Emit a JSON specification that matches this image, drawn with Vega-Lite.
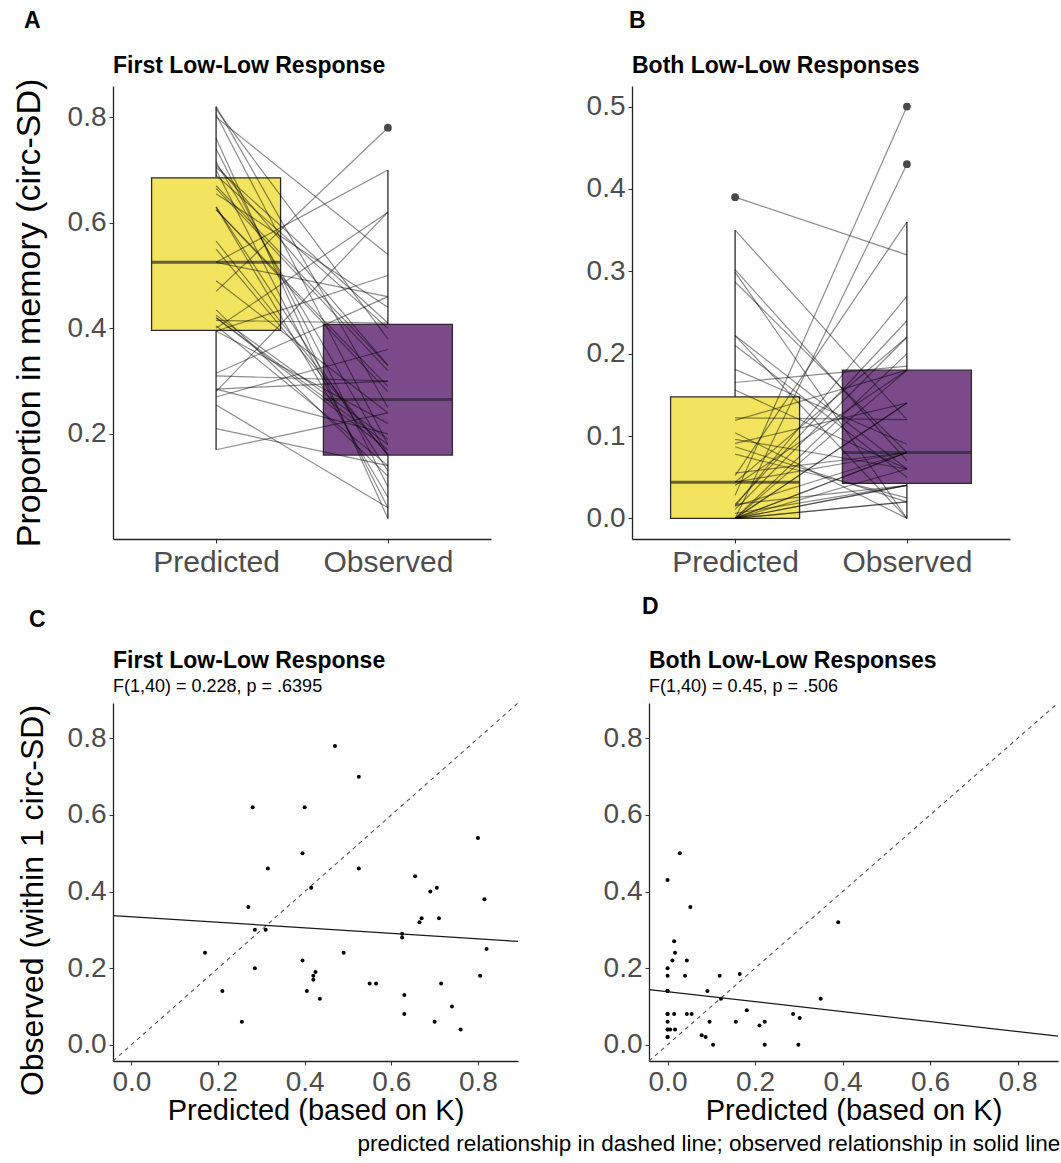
{
  "$schema": "https://vega.github.io/schema/vega-lite/v6.json",
  "background": "white",
  "padding": {"left": 12, "top": 10, "right": 0, "bottom": 2},
  "datasets": {
    "first": [
      {"id": 1, "Predicted": 0.47, "Observed": 0.78},
      {"id": 2, "Predicted": 0.525, "Observed": 0.70},
      {"id": 3, "Predicted": 0.28, "Observed": 0.62},
      {"id": 4, "Predicted": 0.40, "Observed": 0.62},
      {"id": 5, "Predicted": 0.80, "Observed": 0.54},
      {"id": 6, "Predicted": 0.395, "Observed": 0.50},
      {"id": 7, "Predicted": 0.315, "Observed": 0.46},
      {"id": 8, "Predicted": 0.525, "Observed": 0.46},
      {"id": 9, "Predicted": 0.655, "Observed": 0.44},
      {"id": 10, "Predicted": 0.415, "Observed": 0.41},
      {"id": 11, "Predicted": 0.705, "Observed": 0.41},
      {"id": 12, "Predicted": 0.69, "Observed": 0.40},
      {"id": 13, "Predicted": 0.815, "Observed": 0.38},
      {"id": 14, "Predicted": 0.27, "Observed": 0.36},
      {"id": 15, "Predicted": 0.67, "Observed": 0.33},
      {"id": 16, "Predicted": 0.665, "Observed": 0.32},
      {"id": 17, "Predicted": 0.71, "Observed": 0.33},
      {"id": 18, "Predicted": 0.285, "Observed": 0.30},
      {"id": 19, "Predicted": 0.31, "Observed": 0.30},
      {"id": 20, "Predicted": 0.625, "Observed": 0.29},
      {"id": 21, "Predicted": 0.625, "Observed": 0.28},
      {"id": 22, "Predicted": 0.17, "Observed": 0.24},
      {"id": 23, "Predicted": 0.49, "Observed": 0.24},
      {"id": 24, "Predicted": 0.82, "Observed": 0.25},
      {"id": 25, "Predicted": 0.395, "Observed": 0.22},
      {"id": 26, "Predicted": 0.285, "Observed": 0.20},
      {"id": 27, "Predicted": 0.425, "Observed": 0.19},
      {"id": 28, "Predicted": 0.42, "Observed": 0.18},
      {"id": 29, "Predicted": 0.42, "Observed": 0.17},
      {"id": 30, "Predicted": 0.805, "Observed": 0.18},
      {"id": 31, "Predicted": 0.55, "Observed": 0.16},
      {"id": 32, "Predicted": 0.565, "Observed": 0.16},
      {"id": 33, "Predicted": 0.715, "Observed": 0.16},
      {"id": 34, "Predicted": 0.21, "Observed": 0.14},
      {"id": 35, "Predicted": 0.405, "Observed": 0.14},
      {"id": 36, "Predicted": 0.63, "Observed": 0.13},
      {"id": 37, "Predicted": 0.435, "Observed": 0.12},
      {"id": 38, "Predicted": 0.63, "Observed": 0.08},
      {"id": 39, "Predicted": 0.74, "Observed": 0.10},
      {"id": 40, "Predicted": 0.255, "Observed": 0.06},
      {"id": 41, "Predicted": 0.70, "Observed": 0.06},
      {"id": 42, "Predicted": 0.76, "Observed": 0.04}
    ],
    "both": [
      {"id": 1, "Predicted": 0.028, "Observed": 0.50},
      {"id": 2, "Predicted": 0.0, "Observed": 0.43},
      {"id": 3, "Predicted": 0.052, "Observed": 0.36},
      {"id": 4, "Predicted": 0.39, "Observed": 0.32},
      {"id": 5, "Predicted": 0.015, "Observed": 0.27},
      {"id": 6, "Predicted": 0.017, "Observed": 0.24},
      {"id": 7, "Predicted": 0.011, "Observed": 0.22},
      {"id": 8, "Predicted": 0.044, "Observed": 0.22},
      {"id": 9, "Predicted": 0.0, "Observed": 0.20},
      {"id": 10, "Predicted": 0.0, "Observed": 0.18},
      {"id": 11, "Predicted": 0.040, "Observed": 0.18},
      {"id": 12, "Predicted": 0.119, "Observed": 0.18},
      {"id": 13, "Predicted": 0.165, "Observed": 0.185},
      {"id": 14, "Predicted": 0.0, "Observed": 0.14},
      {"id": 15, "Predicted": 0.091, "Observed": 0.14},
      {"id": 16, "Predicted": 0.122, "Observed": 0.12},
      {"id": 17, "Predicted": 0.350, "Observed": 0.12},
      {"id": 18, "Predicted": 0.181, "Observed": 0.09},
      {"id": 19, "Predicted": 0.0, "Observed": 0.08},
      {"id": 20, "Predicted": 0.015, "Observed": 0.08},
      {"id": 21, "Predicted": 0.044, "Observed": 0.08},
      {"id": 22, "Predicted": 0.055, "Observed": 0.08},
      {"id": 23, "Predicted": 0.287, "Observed": 0.08},
      {"id": 24, "Predicted": 0.302, "Observed": 0.07},
      {"id": 25, "Predicted": 0.0, "Observed": 0.06},
      {"id": 26, "Predicted": 0.096, "Observed": 0.06},
      {"id": 27, "Predicted": 0.156, "Observed": 0.06},
      {"id": 28, "Predicted": 0.222, "Observed": 0.06},
      {"id": 29, "Predicted": 0.210, "Observed": 0.05},
      {"id": 30, "Predicted": 0.0, "Observed": 0.04},
      {"id": 31, "Predicted": 0.006, "Observed": 0.04},
      {"id": 32, "Predicted": 0.017, "Observed": 0.04},
      {"id": 33, "Predicted": 0.0, "Observed": 0.02},
      {"id": 34, "Predicted": 0.078, "Observed": 0.025},
      {"id": 35, "Predicted": 0.087, "Observed": 0.02},
      {"id": 36, "Predicted": 0.104, "Observed": 0.0},
      {"id": 37, "Predicted": 0.222, "Observed": 0.0},
      {"id": 38, "Predicted": 0.299, "Observed": 0.0},
      {"id": 39, "Predicted": 0.0, "Observed": 0.04},
      {"id": 40, "Predicted": 0.0, "Observed": 0.02},
      {"id": 41, "Predicted": 0.0, "Observed": 0.08},
      {"id": 42, "Predicted": 0.0, "Observed": 0.14}
    ],
    "identity": [
      {"Predicted": -0.0425, "Observed": -0.0425},
      {"Predicted": 0.8925, "Observed": 0.8925}
    ]
  },
  "title": {
    "text": "predicted relationship in dashed line; observed relationship in solid line",
    "orient": "bottom",
    "anchor": "end",
    "frame": "bounds",
    "fontSize": 22.5,
    "fontWeight": "normal",
    "color": "#000000",
    "offset": 8
  },
  "config": {
    "font": "Liberation Sans",
    "view": {"stroke": null},
    "axis": {
      "grid": false,
      "domainColor": "#222222",
      "domainWidth": 1.3,
      "tickColor": "#333333",
      "tickSize": 4,
      "tickWidth": 1,
      "labelColor": "#4D4D4D",
      "labelFontSize": 28,
      "labelPadding": 3,
      "titleColor": "#000000",
      "titleFontWeight": "normal",
      "titleFontSize": 29
    },
    "title": {
      "color": "#000000",
      "fontWeight": "bold",
      "fontSize": 23,
      "subtitleColor": "#000000",
      "subtitleFontSize": 18,
      "subtitlePadding": 5
    }
  },
  "columns": 1,
  "align": "none",
  "spacing": 18,
  "concat": [
    {
      "spacing": 95,
      "hconcat": [
        {
          "title": {"text": "A", "anchor": "start", "frame": "bounds", "offset": 22, "dx": 12},
          "vconcat": [
            {
              "title": {"text": "First Low-Low Response", "anchor": "start", "frame": "group", "offset": 0},
              "width": 378,
              "height": 453,
              "data": {"name": "first"},
              "transform": [{"fold": ["Predicted", "Observed"], "as": ["condition", "value"]}],
              "encoding": {
                "x": {
                  "field": "condition", "type": "nominal", "sort": ["Predicted", "Observed"],
                  "scale": {"type": "point", "padding": 0.6},
                  "axis": {"title": null, "labelAngle": 0, "labelFontSize": 30, "labelPadding": 4}
                },
                "y": {
                  "field": "value", "type": "quantitative",
                  "scale": {"domain": [0.001, 0.859], "nice": false, "zero": false},
                  "axis": {"title": "Proportion in memory (circ-SD)", "values": [0.2, 0.4, 0.6, 0.8], "format": ".1f", "titleFontSize": 34, "titlePadding": 21}
                }
              },
              "layer": [
                {
                  "mark": {
                    "type": "boxplot", "extent": 1.5, "size": 129, "outliers": false,
                    "box": {"stroke": "#2b2b2b", "strokeWidth": 1.3, "opacity": 1},
                    "median": {"color": "#2b2b2b", "thickness": 3},
                    "rule": {"color": "#2b2b2b", "strokeWidth": 1.3}
                  },
                  "encoding": {
                    "color": {"field": "condition", "type": "nominal", "scale": {"domain": ["Predicted", "Observed"], "range": ["#F2E45F", "#7B4A8A"]}, "legend": null}
                  }
                },
                {
                  "mark": {"type": "line", "color": "#000000", "opacity": 0.45, "strokeWidth": 1.2},
                  "encoding": {"detail": {"field": "id", "type": "nominal"}}
                },
                {
                  "transform": [
                    {"joinaggregate": [{"op": "q1", "field": "value", "as": "lower"}, {"op": "q3", "field": "value", "as": "upper"}], "groupby": ["condition"]},
                    {"filter": "datum.value > datum.upper + 1.5 * (datum.upper - datum.lower) || datum.value < datum.lower - 1.5 * (datum.upper - datum.lower)"}
                  ],
                  "mark": {"type": "circle", "color": "#4a4a4a", "size": 60, "opacity": 1}
                }
              ]
            }
          ]
        },
        {
          "title": {"text": "B", "anchor": "start", "frame": "bounds", "offset": 22, "dx": 43},
          "vconcat": [
            {
              "title": {"text": "Both Low-Low Responses", "anchor": "start", "frame": "group", "offset": 8},
              "width": 378,
              "height": 453,
              "data": {"name": "both"},
              "transform": [{"fold": ["Predicted", "Observed"], "as": ["condition", "value"]}],
              "encoding": {
                "x": {
                  "field": "condition", "type": "nominal", "sort": ["Predicted", "Observed"],
                  "scale": {"type": "point", "padding": 0.6},
                  "axis": {"title": null, "labelAngle": 0, "labelFontSize": 30, "labelPadding": 4}
                },
                "y": {
                  "field": "value", "type": "quantitative",
                  "scale": {"domain": [-0.025, 0.525], "nice": false, "zero": false},
                  "axis": {"title": null, "values": [0, 0.1, 0.2, 0.3, 0.4, 0.5], "format": ".1f"}
                }
              },
              "layer": [
                {
                  "mark": {
                    "type": "boxplot", "extent": 1.5, "size": 129, "outliers": false,
                    "box": {"stroke": "#2b2b2b", "strokeWidth": 1.3, "opacity": 1},
                    "median": {"color": "#2b2b2b", "thickness": 3},
                    "rule": {"color": "#2b2b2b", "strokeWidth": 1.3}
                  },
                  "encoding": {
                    "color": {"field": "condition", "type": "nominal", "scale": {"domain": ["Predicted", "Observed"], "range": ["#F2E45F", "#7B4A8A"]}, "legend": null}
                  }
                },
                {
                  "mark": {"type": "line", "color": "#000000", "opacity": 0.45, "strokeWidth": 1.2},
                  "encoding": {"detail": {"field": "id", "type": "nominal"}}
                },
                {
                  "transform": [
                    {"joinaggregate": [{"op": "q1", "field": "value", "as": "lower"}, {"op": "q3", "field": "value", "as": "upper"}], "groupby": ["condition"]},
                    {"filter": "datum.value > datum.upper + 1.5 * (datum.upper - datum.lower) || datum.value < datum.lower - 1.5 * (datum.upper - datum.lower)"}
                  ],
                  "mark": {"type": "circle", "color": "#4a4a4a", "size": 60, "opacity": 1}
                }
              ]
            }
          ]
        }
      ]
    },
    {
      "spacing": 82,
      "hconcat": [
        {
          "title": {"text": "C", "anchor": "start", "frame": "bounds", "offset": 18, "dx": 13},
          "vconcat": [
            {
              "title": {"text": "First Low-Low Response", "subtitle": "F(1,40) = 0.228, p = .6395", "anchor": "start", "frame": "group", "offset": 5},
              "width": 405,
              "height": 358,
              "data": {"name": "first"},
              "encoding": {
                "x": {
                  "field": "Predicted", "type": "quantitative",
                  "scale": {"domain": [-0.0425, 0.8925], "nice": false, "zero": false},
                  "axis": {"title": "Predicted (based on K)", "values": [0, 0.2, 0.4, 0.6, 0.8], "format": ".1f", "titlePadding": 0}
                },
                "y": {
                  "field": "Observed", "type": "quantitative",
                  "scale": {"domain": [-0.0425, 0.8925], "nice": false, "zero": false},
                  "axis": {"title": "Observed (within 1 circ-SD)", "values": [0, 0.2, 0.4, 0.6, 0.8], "format": ".1f", "titleFontSize": 32, "titlePadding": 18, "titleY": 197}
                }
              },
              "layer": [
                {
                  "data": {"name": "identity"},
                  "mark": {"type": "line", "strokeDash": [4, 4], "color": "#555555", "strokeWidth": 1.1}
                },
                {
                  "mark": {"type": "circle", "color": "#000000", "size": 16, "opacity": 1}
                },
                {
                  "transform": [{"regression": "Observed", "on": "Predicted", "extent": [-0.0425, 0.8925]}],
                  "mark": {"type": "line", "color": "#1a1a1a", "strokeWidth": 1.2}
                }
              ]
            }
          ]
        },
        {
          "title": {"text": "D", "anchor": "start", "frame": "bounds", "offset": 18, "dx": 39, "dy": -13},
          "vconcat": [
            {
              "title": {"text": "Both Low-Low Responses", "subtitle": "F(1,40) = 0.45, p = .506", "anchor": "start", "frame": "group", "offset": 5},
              "width": 409,
              "height": 358,
              "data": {"name": "both"},
              "encoding": {
                "x": {
                  "field": "Predicted", "type": "quantitative",
                  "scale": {"domain": [-0.0425, 0.8925], "nice": false, "zero": false},
                  "axis": {"title": "Predicted (based on K)", "values": [0, 0.2, 0.4, 0.6, 0.8], "format": ".1f", "titlePadding": 0}
                },
                "y": {
                  "field": "Observed", "type": "quantitative",
                  "scale": {"domain": [-0.0425, 0.8925], "nice": false, "zero": false},
                  "axis": {"title": null, "values": [0, 0.2, 0.4, 0.6, 0.8], "format": ".1f"}
                }
              },
              "layer": [
                {
                  "data": {"name": "identity"},
                  "mark": {"type": "line", "strokeDash": [4, 4], "color": "#555555", "strokeWidth": 1.1}
                },
                {
                  "mark": {"type": "circle", "color": "#000000", "size": 16, "opacity": 1}
                },
                {
                  "transform": [{"regression": "Observed", "on": "Predicted", "extent": [-0.0425, 0.8925]}],
                  "mark": {"type": "line", "color": "#1a1a1a", "strokeWidth": 1.2}
                }
              ]
            }
          ]
        }
      ]
    }
  ]
}
